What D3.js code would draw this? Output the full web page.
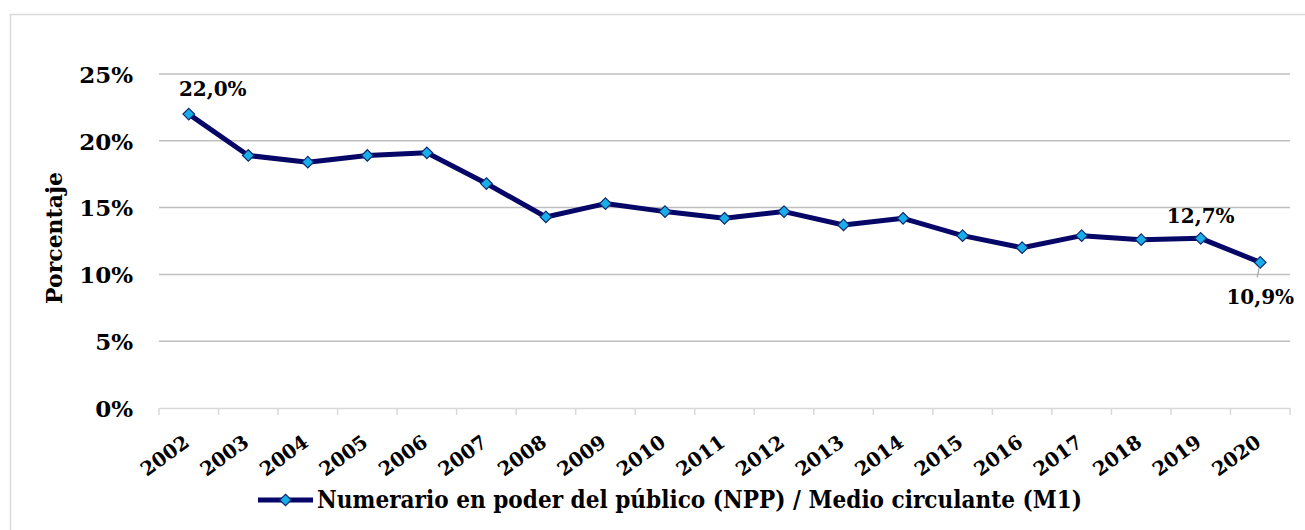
<!DOCTYPE html>
<html>
<head>
<meta charset="utf-8">
<script src="https://cdn.jsdelivr.net/npm/d3@7"></script>
<style>
  body { margin: 0; background: #fff; }
  svg text { font-family: "DejaVu Serif", "Liberation Serif", serif; font-weight: bold; fill: #000; }
</style>
</head>
<body>
<div id="chart"></div>
<script>
// ------- Data -------
const years = ["2002","2003","2004","2005","2006","2007","2008","2009","2010","2011",
               "2012","2013","2014","2015","2016","2017","2018","2019","2020"];
const ratio = [22.0, 18.9, 18.4, 18.9, 19.1, 16.8, 14.3, 15.3, 14.7, 14.2,
               14.7, 13.7, 14.2, 12.9, 12.0, 12.9, 12.6, 12.7, 10.9];
const yTicks = [0, 5, 10, 15, 20, 25];
const seriesName = "Numerario en poder del público (NPP) / Medio circulante (M1)";

const W = 1305, H = 530;
const margin = {left: 159, right: 15, top: 74, bottom: 122};
const lineColor = "#070768";
const markerFill = "#19aeea";

const svg = d3.select("#chart").append("svg")
  .attr("width", W).attr("height", H);

// chart border
svg.append("rect")
  .attr("x", 10.5).attr("y", 14.5)
  .attr("width", W + 10).attr("height", H + 10)
  .attr("fill", "none").attr("stroke", "#d9d9d9").attr("stroke-width", 1.5);

const x = d3.scaleBand().domain(years).range([margin.left, W - margin.right]);
const y = d3.scaleLinear().domain([0, 25]).range([H - margin.bottom, margin.top]);

// gridlines
svg.append("g")
  .selectAll("line")
  .data(yTicks.filter(d => d > 0))
  .join("line")
  .attr("x1", margin.left).attr("x2", W - margin.right)
  .attr("y1", d => y(d)).attr("y2", d => y(d))
  .attr("stroke", "#bfbfbf").attr("stroke-width", 1.5);

// y axis labels
const yAxis = svg.append("g")
  .attr("transform", `translate(${margin.left},0)`)
  .call(d3.axisLeft(y).tickValues(yTicks).tickFormat(d => d + "%").tickSize(0).tickPadding(26));
yAxis.select(".domain").remove();
yAxis.selectAll("text")
  .style("font-size", "23px")
  .style("font-family", "\"DejaVu Serif\", serif")
  .style("font-weight", "bold")
  .attr("dy", "0.36em");

// x axis
const xAxis = svg.append("g")
  .attr("transform", `translate(0,${y(0)})`)
  .call(d3.axisBottom(x).tickSize(0));
xAxis.select(".domain").attr("stroke", "#d9d9d9").attr("stroke-width", 1.5);
xAxis.selectAll(".tick line").remove();
// category boundary ticks
xAxis.selectAll(".bound")
  .data(years.concat(["end"]))
  .join("line")
  .attr("class", "bound")
  .attr("x1", (d, i) => margin.left + i * x.step())
  .attr("x2", (d, i) => margin.left + i * x.step())
  .attr("y1", 0).attr("y2", 7)
  .attr("stroke", "#d9d9d9").attr("stroke-width", 1.5);
xAxis.selectAll(".tick text")
  .style("font-size", "19.5px")
  .style("font-family", "\"DejaVu Serif\", serif")
  .style("font-weight", "bold")
  .attr("text-anchor", "end")
  .attr("dy", null)
  .attr("y", 0)
  .attr("transform", "translate(2,37) rotate(-36)");

// y axis title
svg.append("text")
  .attr("transform", `translate(62,238) rotate(-90)`)
  .attr("text-anchor", "middle")
  .style("font-size", "22px")
  .text("Porcentaje");

// line
const cx = d => x(d) + x.bandwidth() / 2;
const line = d3.line()
  .x((d, i) => cx(years[i]))
  .y(d => y(d));
svg.append("path")
  .datum(ratio)
  .attr("d", line)
  .attr("fill", "none")
  .attr("stroke", lineColor)
  .attr("stroke-width", 5)
  .attr("stroke-linejoin", "round");

// markers
const diamond = d3.symbol().type(d3.symbolDiamond2).size(85);
svg.append("g")
  .selectAll("path")
  .data(ratio)
  .join("path")
  .attr("d", diamond)
  .attr("transform", (d, i) => `translate(${cx(years[i])},${y(d)})`)
  .attr("fill", markerFill)
  .attr("stroke", "#0d2a6e")
  .attr("stroke-width", 1.2);

// data labels
const fmt = v => v.toFixed(1).replace(".", ",") + "%";
const labelIdx = [
  {i: 0, dx: 24, dy: -18},
  {i: 17, dx: 0, dy: -15},
  {i: 18, dx: 0, dy: 42}
];
// leader line for last label
const last = ratio.length - 1;
svg.append("line")
  .attr("x1", cx(years[last]) - 1).attr("y1", y(ratio[last]) + 5)
  .attr("x2", cx(years[last]) - 3).attr("y2", y(ratio[last]) + 15)
  .attr("stroke", "#a6a6a6").attr("stroke-width", 1.2);
svg.append("g")
  .selectAll("text")
  .data(labelIdx)
  .join("text")
  .attr("x", d => cx(years[d.i]) + d.dx)
  .attr("y", d => y(ratio[d.i]) + d.dy)
  .attr("text-anchor", "middle")
  .style("font-size", "20px")
  .text(d => fmt(ratio[d.i]));

// legend
const lg = svg.append("g").attr("transform", "translate(258,500)");
lg.append("line")
  .attr("x1", 0).attr("x2", 55).attr("y1", 0).attr("y2", 0)
  .attr("stroke", lineColor).attr("stroke-width", 5);
lg.append("path")
  .attr("d", diamond)
  .attr("transform", "translate(27.5,0)")
  .attr("fill", markerFill)
  .attr("stroke", "#0d2a6e")
  .attr("stroke-width", 1.2);
lg.append("text")
  .attr("x", 59).attr("y", 8)
  .style("font-size", "24px")
  .attr("textLength", 765)
  .attr("lengthAdjust", "spacingAndGlyphs")
  .text(seriesName);
</script>
</body>
</html>
